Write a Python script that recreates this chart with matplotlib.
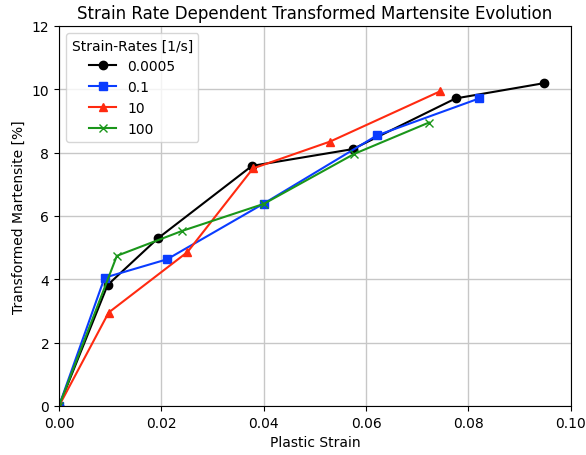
import matplotlib
matplotlib.use("Agg")
import matplotlib.pyplot as plt

# strain rates [1/s]
rates = ["0.0005", "0.1", "10", "100"]

strain_0005 = [0.0, 0.0095, 0.0193, 0.0377, 0.0574, 0.0775, 0.0947]
mart_0005 = [0.0, 3.82, 5.29, 7.58, 8.11, 9.71, 10.19]

strain_01 = [0.0, 0.0089, 0.0211, 0.0400, 0.0621, 0.0821]
mart_01 = [0.0, 4.05, 4.63, 6.39, 8.54, 9.71]

strain_10 = [0.0, 0.0097, 0.0251, 0.0379, 0.0530, 0.0744]
mart_10 = [0.0, 2.95, 4.86, 7.50, 8.35, 9.93]

strain_100 = [0.0, 0.0113, 0.0241, 0.0400, 0.0577, 0.0723]
mart_100 = [0.0, 4.74, 5.53, 6.38, 7.96, 8.95]

fig = plt.figure(figsize=(5.86, 4.56), dpi=100)
ax = fig.add_axes([0.1007, 0.1075, 0.8733, 0.8335])

ax.plot(strain_0005, mart_0005, "-o", color="black", markersize=6, label=rates[0])
ax.plot(strain_01, mart_01, "-s", color="#0a3cff", markersize=6, label=rates[1])
ax.plot(strain_10, mart_10, "-^", color="#ff2a10", markersize=6, label=rates[2])
ax.plot(strain_100, mart_100, "-x", color="#1a961a", markersize=6, label=rates[3])

ax.set_xlim(0, 0.10)
ax.set_ylim(0, 12)
ax.set_xticks([0.0, 0.02, 0.04, 0.06, 0.08, 0.10])
ax.set_yticks([0, 2, 4, 6, 8, 10, 12])
ax.grid(True, color="0.78", linewidth=1)
ax.set_axisbelow(True)

ax.set_xlabel("Plastic Strain")
ax.set_ylabel("Transformed Martensite [%]")
ax.set_title("Strain Rate Dependent Transformed Martensite Evolution", fontsize=12)
ax.legend(title="Strain-Rates [1/s]", loc="upper left")

fig.savefig("out.png", dpi=100)
